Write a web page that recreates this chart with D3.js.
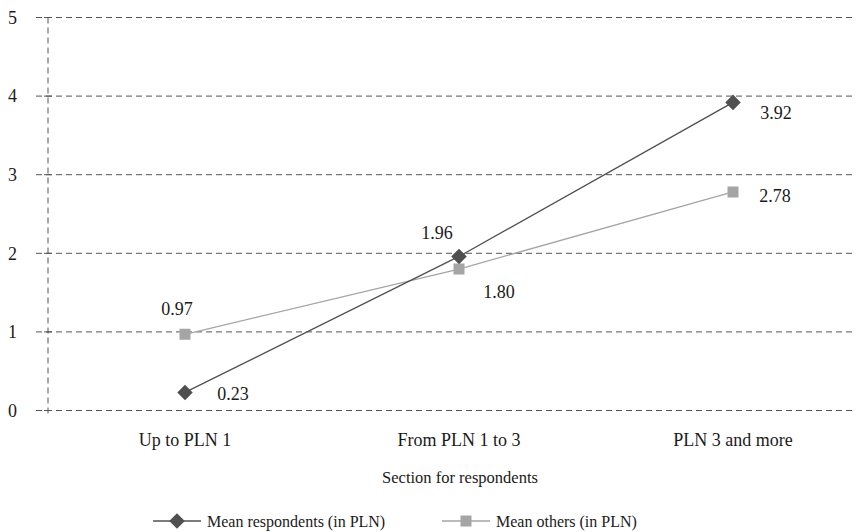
<!DOCTYPE html>
<html>
<head>
<meta charset="utf-8">
<script src="https://cdn.jsdelivr.net/npm/d3@7"></script>
<style>
  body { margin: 0; background: #fff; }
</style>
</head>
<body>
<div id="chart"></div>
<script>
// Chart data
const categories = ["Up to PLN 1", "From PLN 1 to 3", "PLN 3 and more"];
const respondents = [0.23, 1.96, 3.92];
const others = [0.97, 1.80, 2.78];
const yTicks = [0, 1, 2, 3, 4, 5];
const seriesNames = ["Mean respondents (in PLN)", "Mean others (in PLN)"];
const xTitle = "Section for respondents";

const width = 860, height = 532;
const fontSize = 18;

const svg = d3.select("#chart").append("svg")
  .attr("width", width)
  .attr("height", height)
  .attr("font-family", "'Liberation Serif', 'Times New Roman', serif")
  .style("font-family", "'Liberation Serif', 'Times New Roman', serif");

// Scales
const x = d3.scalePoint().domain(categories).range([48, 870]).padding(0.5);
const y = d3.scaleLinear().domain([0, 5]).range([410.5, 17.5]);

// Gridlines
svg.append("g")
  .selectAll("line")
  .data(yTicks)
  .join("line")
  .attr("x1", 36)
  .attr("x2", 855)
  .attr("y1", d => y(d))
  .attr("y2", d => y(d))
  .attr("stroke", "#555")
  .attr("stroke-width", 1)
  .attr("stroke-dasharray", "6,4");

// Y axis (dashed vertical line)
svg.append("line")
  .attr("x1", 48).attr("x2", 48)
  .attr("y1", y(5)).attr("y2", y(0) + 4)
  .attr("stroke", "#555")
  .attr("stroke-dasharray", "6,4");

// Tick crosses at the axis
svg.append("g")
  .selectAll("line")
  .data(yTicks)
  .join("line")
  .attr("x1", 44).attr("x2", 52)
  .attr("y1", d => y(d)).attr("y2", d => y(d))
  .attr("stroke", "#555");

// Y tick labels
svg.append("g")
  .selectAll("text")
  .data(yTicks)
  .join("text")
  .attr("x", 17)
  .attr("y", d => y(d))
  .attr("dy", "0.35em")
  .attr("text-anchor", "end")
  .attr("font-size", fontSize)
  .attr("fill", "#1a1a1a")
  .text(d => d);

// X category labels
svg.append("g")
  .selectAll("text")
  .data(categories)
  .join("text")
  .attr("x", d => x(d))
  .attr("y", 446)
  .attr("text-anchor", "middle")
  .attr("font-size", fontSize)
  .attr("fill", "#1a1a1a")
  .text(d => d);

// X axis title
svg.append("text")
  .attr("x", 460)
  .attr("y", 483)
  .attr("text-anchor", "middle")
  .attr("font-size", 16.5)
  .attr("fill", "#1a1a1a")
  .text(xTitle);

const series = [
  {name: seriesNames[0], values: respondents, color: "#505050", marker: "diamond",
   labelOffsets: [[48, 1], [-22, -24], [43, 10]]},
  {name: seriesNames[1], values: others, color: "#a5a5a5", marker: "square",
   labelOffsets: [[-8, -26], [40, 23], [42, 4]]}
];

function drawMarker(g, type, cx, cy, color) {
  if (type === "diamond") {
    g.append("rect")
      .attr("x", -5.5).attr("y", -5.5)
      .attr("width", 11).attr("height", 11)
      .attr("transform", `translate(${cx} ${cy}) rotate(45)`)
      .attr("fill", color);
  } else {
    g.append("rect")
      .attr("x", cx - 5.5).attr("y", cy - 5.5)
      .attr("width", 11).attr("height", 11)
      .attr("fill", color);
  }
}

const line = d3.line()
  .x((d, i) => x(categories[i]))
  .y(d => y(d));

// Draw lighter series first so dark series sits on top
for (const s of [series[1], series[0]]) {
  svg.append("path")
    .datum(s.values)
    .attr("d", line)
    .attr("fill", "none")
    .attr("stroke", s.color)
    .attr("stroke-width", 1.3);

  const g = svg.append("g");
  s.values.forEach((v, i) => drawMarker(g, s.marker, x(categories[i]), y(v), s.color));

  svg.append("g")
    .selectAll("text")
    .data(s.values)
    .join("text")
    .attr("x", (d, i) => x(categories[i]) + s.labelOffsets[i][0])
    .attr("y", (d, i) => y(d) + s.labelOffsets[i][1])
    .attr("dy", "0.35em")
    .attr("text-anchor", "middle")
    .attr("font-size", fontSize)
    .attr("fill", "#1a1a1a")
    .text(d => d.toFixed(2));
}

// Legend
const legendPos = [153, 442];
series.forEach((s, i) => {
  const lx = legendPos[i], ly = 521;
  const g = svg.append("g");
  g.append("line")
    .attr("x1", lx).attr("x2", lx + 48)
    .attr("y1", ly).attr("y2", ly)
    .attr("stroke", s.color)
    .attr("stroke-width", 1.3);
  drawMarker(g, s.marker, lx + 24, ly, s.color);
  g.append("text")
    .attr("x", lx + 54)
    .attr("y", ly)
    .attr("dy", "0.35em")
    .attr("font-size", 16)
    .attr("fill", "#1a1a1a")
    .text(s.name);
});
</script>
</body>
</html>
